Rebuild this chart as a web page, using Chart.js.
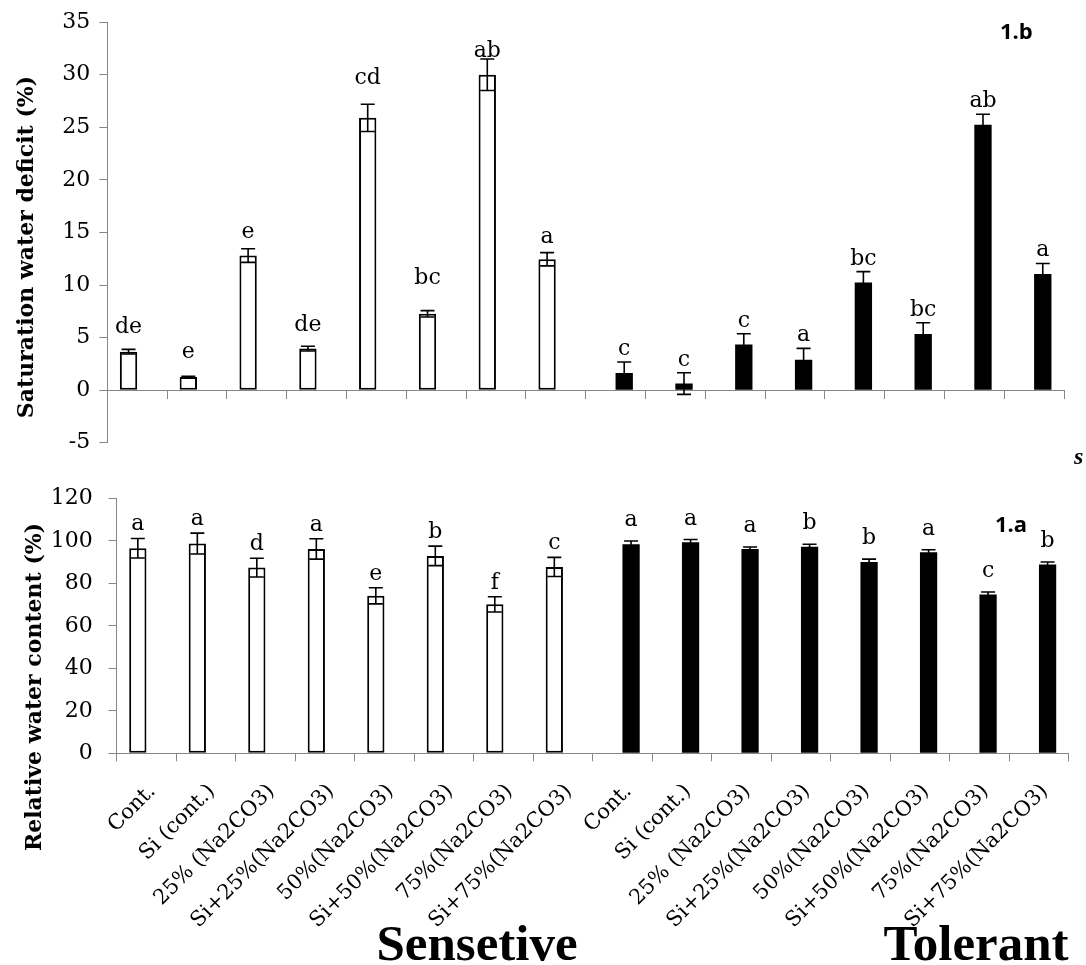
<!DOCTYPE html>
<html>
<head>
<meta charset="utf-8">
<script src="https://cdn.jsdelivr.net/npm/chart.js@4.4.1/dist/chart.umd.min.js"></script>
<style>
  html, body { margin: 0; padding: 0; background: #fff; }
  #wrap { position: relative; width: 1086px; height: 965px; overflow: hidden; }
  #wrap canvas { position: absolute; left: 0; top: 0; }
</style>
</head>
<body>
<div id="wrap">
  <canvas id="swd" width="1086" height="965"></canvas>
  <canvas id="rwc" width="1086" height="965"></canvas>
</div>
<script>
// Treatments (same order for both cultivars)
const treatments = ['Cont.', 'Si (cont.)', '25% (Na2CO3)', 'Si+25%(Na2CO3)',
                    '50%(Na2CO3)', 'Si+50%(Na2CO3)', '75%(Na2CO3)', 'Si+75%(Na2CO3)'];
const categories = treatments.concat(treatments);

// 1.b  Saturation water deficit (%)
const swdSensitive       = [3.66, 1.26, 12.8, 3.95, 25.9, 7.26, 30.0, 12.45];
const swdSensitiveErr    = [0.22, 0.05, 0.65, 0.22, 1.3, 0.3, 1.5, 0.63];
const swdSensitiveLetter = ['de', 'e', 'e', 'de', 'cd', 'bc', 'ab', 'a'];
const swdTolerant        = [1.64, 0.63, 4.33, 2.9, 10.23, 5.34, 25.24, 11.05];
const swdTolerantErr     = [1.04, 1.03, 1.04, 1.07, 1.04, 1.07, 1.0, 1.0];
const swdTolerantLetter  = ['c', 'c', 'c', 'a', 'bc', 'bc', 'ab', 'a'];
const swdTicks = { min: -5, max: 35, step: 5 };

// 1.a  Relative water content (%)
const rwcSensitive       = [96.5, 98.7, 87.4, 96.2, 74.1, 92.9, 70.1, 87.7];
const rwcSensitiveErr    = [4.6, 4.9, 4.4, 4.8, 3.8, 4.6, 3.6, 4.5];
const rwcSensitiveLetter = ['a', 'a', 'd', 'a', 'e', 'b', 'f', 'c'];
const rwcTolerant        = [98.4, 99.3, 96.1, 97.2, 90.0, 94.6, 74.7, 88.9];
const rwcTolerantErr     = [1.5, 1.3, 1.0, 1.2, 1.4, 1.2, 1.2, 1.1];
const rwcTolerantLetter  = ['a', 'a', 'a', 'b', 'b', 'a', 'c', 'b'];
const rwcTicks = { min: 0, max: 120, step: 20 };

const AXIS = '#868686';
const INK = '#000';
const SERIF = "'DejaVu Serif', serif";
const blanks = new Array(treatments.length).fill(null);

function sensitiveSet(vals, errs, letters) {
  return {
    label: 'Sensetive', data: vals.concat(blanks),
    errors: errs.concat(blanks), letters: letters.concat(blanks),
    backgroundColor: '#fff', borderColor: INK, borderWidth: 2, borderSkipped: false,
    categoryPercentage: 0.58, barPercentage: 1.0
  };
}
function tolerantSet(vals, errs, letters) {
  return {
    label: 'Tolerant', data: blanks.concat(vals),
    errors: blanks.concat(errs), letters: blanks.concat(letters),
    backgroundColor: INK, borderColor: INK, borderWidth: 0, borderSkipped: false,
    categoryPercentage: 0.58, barPercentage: 1.0
  };
}

// Error bars with caps, plus the significance letters above them
const errorBars = {
  id: 'errorBars',
  afterDatasetsDraw(chart, args, opts) {
    const ctx = chart.ctx;
    const y = chart.scales.y;
    chart.data.datasets.forEach((ds, di) => {
      const meta = chart.getDatasetMeta(di);
      const gap = opts.gaps[di];
      meta.data.forEach((bar, i) => {
        const v = ds.data[i];
        if (v === null || v === undefined) return;
        const e = ds.errors[i];
        const top = y.getPixelForValue(v + e);
        const bot = y.getPixelForValue(v - e);
        const cap = 7;
        ctx.save();
        ctx.strokeStyle = INK;
        ctx.lineWidth = 1.6;
        ctx.beginPath();
        ctx.moveTo(bar.x, top); ctx.lineTo(bar.x, bot);
        ctx.moveTo(bar.x - cap, top); ctx.lineTo(bar.x + cap, top);
        ctx.moveTo(bar.x - cap, bot); ctx.lineTo(bar.x + cap, bot);
        ctx.stroke();
        const g = Array.isArray(gap) ? gap[i % treatments.length] : gap;
        ctx.fillStyle = INK;
        ctx.font = '22px ' + SERIF;
        ctx.textAlign = 'center';
        ctx.textBaseline = 'alphabetic';
        ctx.fillText(ds.letters[i], bar.x, top - g);
        ctx.restore();
      });
    });
  }
};

// Free text: axis titles, panel tags, group names
const notes = {
  id: 'notes',
  afterDraw(chart, args, opts) {
    const ctx = chart.ctx;
    opts.items.forEach(n => {
      ctx.save();
      ctx.fillStyle = INK;
      ctx.font = n.font;
      ctx.textAlign = n.align || 'left';
      ctx.textBaseline = 'alphabetic';
      ctx.translate(n.x, n.y);
      if (n.rotate) ctx.rotate(n.rotate);
      ctx.fillText(n.text, 0, 0);
      ctx.restore();
    });
  }
};

function yScale(t, width, pad) {
  return {
    min: t.min, max: t.max,
    ticks: { stepSize: t.step, color: INK, padding: pad, font: { family: SERIF, size: 22 } },
    grid: { drawOnChartArea: false, drawTicks: true, tickLength: 8, color: AXIS },
    border: { color: AXIS, width: 1 },
    afterFit(s) { s.width = width; }
  };
}

// Upper panel: saturation water deficit
new Chart(document.getElementById('swd'), {
  type: 'bar',
  data: {
    labels: categories,
    datasets: [
      sensitiveSet(swdSensitive, swdSensitiveErr, swdSensitiveLetter),
      tolerantSet(swdTolerant, swdTolerantErr, swdTolerantLetter)
    ]
  },
  options: {
    responsive: false, animation: false, devicePixelRatio: 1,
    layout: { padding: { left: 0, top: 20.7, right: 22, bottom: 522.3 } },
    plugins: {
      legend: { display: false }, tooltip: { enabled: false },
      errorBars: { gaps: [[16, 18, 11, 15, 20, 27, 2, 10], 7] },
      notes: { items: [
        { text: 'Saturation water deficit (%)', x: 33, y: 247, rotate: -Math.PI / 2, align: 'center', font: 'bold 22px ' + SERIF },
        { text: '1.b', x: 1000, y: 39, font: "bold 22px 'Open Sans', sans-serif" }
      ] }
    },
    scales: {
      x: {
        position: { y: 0 }, offset: true,
        ticks: { display: false },
        grid: { drawOnChartArea: false, drawTicks: true, tickLength: 8, color: AXIS, offset: true },
        border: { color: AXIS, width: 1 }
      },
      y: yScale(swdTicks, 107.3, 9)
    }
  },
  plugins: [errorBars, notes]
});

// Lower panel: relative water content
new Chart(document.getElementById('rwc'), {
  type: 'bar',
  data: {
    labels: categories,
    datasets: [
      sensitiveSet(rwcSensitive, rwcSensitiveErr, rwcSensitiveLetter),
      tolerantSet(rwcTolerant, rwcTolerantErr, rwcTolerantLetter)
    ]
  },
  options: {
    responsive: false, animation: false, devicePixelRatio: 1,
    layout: { padding: { left: 0, top: 498.3, right: 17.3, bottom: 0 } },
    plugins: {
      legend: { display: false }, tooltip: { enabled: false },
      errorBars: { gaps: [8, 15] },
      notes: { items: [
        { text: 'Relative water content (%)', x: 41, y: 687, rotate: -Math.PI / 2, align: 'center', font: 'bold 22px ' + SERIF },
        { text: '1.a', x: 995, y: 532, font: "bold 22px 'Open Sans', sans-serif" },
        { text: 's', x: 1074, y: 464, font: "bold italic 24px 'Liberation Serif', serif" },
        { text: 'Sensetive', x: 477, y: 960, align: 'center', font: "bold 51px 'Liberation Serif', serif" },
        { text: 'Tolerant', x: 976, y: 960, align: 'center', font: "bold 51px 'Liberation Serif', serif" }
      ] }
    },
    scales: {
      x: {
        offset: true,
        ticks: { autoSkip: false, maxRotation: 45, minRotation: 45, padding: 18, labelOffset: 6,
                 color: INK, font: { family: SERIF, size: 21 } },
        grid: { drawOnChartArea: false, drawTicks: true, tickLength: 8, color: AXIS, offset: true },
        border: { color: AXIS, width: 1 },
        afterFit(s) { s.height = 211.7; }
      },
      y: yScale(rwcTicks, 116.7, 16)
    }
  },
  plugins: [errorBars, notes]
});
</script>
</body>
</html>
